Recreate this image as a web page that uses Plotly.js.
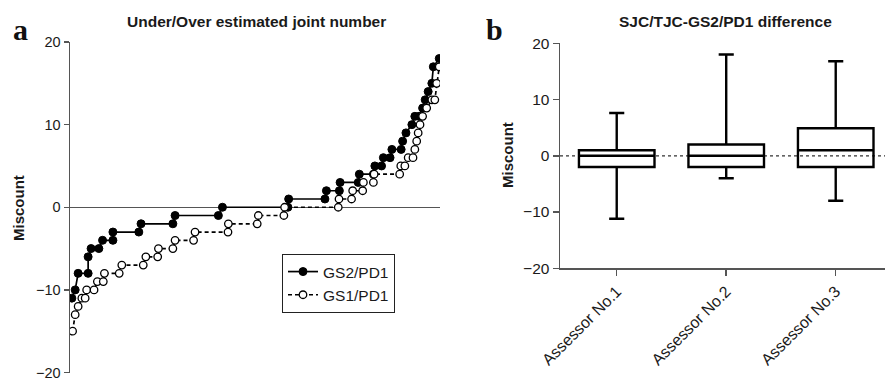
<!DOCTYPE html>
<html>
<head>
<meta charset="utf-8">
<script src="https://cdn.plot.ly/plotly-3.0.1.min.js"></script>
<style>html,body{margin:0;padding:0;background:#fff;}#chart{width:885px;height:381px;}</style>
</head>
<body>
<div id="chart"></div>
<script>
// Panel a: sorted miscount curves (x = relative position along the ranked cases, 0-100)
const gs2X = [0.5,1.4,2.2,4.9,4.9,5.7,7.8,8.8,11.6,11.6,18.6,19.2,27.8,28.4,40.1,41.2,58.9,59.1,68.9,69.3,72.8,73.0,77.9,78.2,82.0,82.4,84.2,84.7,86.5,87.0,89.5,89.9,90.8,92.4,93.2,94.3,95.3,96.0,96.8,97.8,98.2,99.8];
const gs2Y = [-11,-10,-8,-8,-6,-5,-5,-4,-4,-3,-3,-2,-2,-1,-1,0,0,1,1,2,2,3,3,4,4,5,5,6,6,7,7,8,9,10,11,11,12,13,14,15,17,18];
const gs1X = [0.7,1.4,2.2,3.2,4.1,4.5,6.5,7.4,9.0,9.3,13.3,14.0,19.8,20.5,23.7,23.9,27.8,28.4,33.4,33.8,42.7,42.8,50.6,50.9,57.8,58.0,72.5,72.7,76.1,76.4,79.1,79.3,82.0,82.2,89.1,89.4,90.5,91.4,92.7,93.2,93.7,94.1,94.6,95.3,96.4,97.8,98.6,99.1,99.8];
const gs1Y = [-15,-13,-12,-11,-11,-10,-10,-9,-9,-8,-8,-7,-7,-6,-6,-5,-5,-4,-4,-3,-3,-2,-2,-1,-1,0,0,1,1,2,2,3,3,4,4,5,5,6,6,7,8,9,10,11,12,13,13,15,17];
const seriesNames = ['GS2/PD1','GS1/PD1'];

// Panel b: box summary per assessor
const assessors = ['Assessor No.1','Assessor No.2','Assessor No.3'];
const q1 = [-2,-2,-2];
const med = [0,0,1];
const q3 = [1,2,4.9];
const lowF = [-11.2,-4,-8];
const upF = [7.6,18,16.8];
const yTicks = [-20,-10,0,10,20];

const FONT = 'Arial, "Liberation Sans", sans-serif';
const TXT = '#1a1a1a';
const AX = '#555';

const traces = [
  {x: gs2X, y: gs2Y, name: seriesNames[0], type: 'scatter', mode: 'lines+markers',
   line: {color: '#000', width: 1.7},
   marker: {symbol: 'circle', size: 8, color: '#000', line: {color: '#000', width: 1}},
   xaxis: 'x', yaxis: 'y'},
  {x: gs1X, y: gs1Y, name: seriesNames[1], type: 'scatter', mode: 'lines+markers',
   line: {color: '#000', width: 1.7, dash: '4px,3px'},
   marker: {symbol: 'circle', size: 7.5, color: '#fff', line: {color: '#000', width: 1.3}},
   xaxis: 'x', yaxis: 'y'},
  {type: 'box', x: assessors, q1: q1, median: med, q3: q3, lowerfence: lowF, upperfence: upF,
   boxpoints: false, width: 0.69, whiskerwidth: 0.2,
   fillcolor: 'rgba(0,0,0,0)', line: {color: '#000', width: 2.4},
   showlegend: false, hoverinfo: 'skip', xaxis: 'x2', yaxis: 'y2'}
];

const W = 885, H = 381;
const layout = {
  width: W, height: H,
  margin: {l: 0, r: 0, t: 0, b: 0},
  paper_bgcolor: '#fff', plot_bgcolor: 'rgba(0,0,0,0)',
  font: {family: FONT, color: TXT, size: 15},
  showlegend: true,
  legend: {x: 282/W, y: 1 - 254/H, xanchor: 'left', yanchor: 'top',
           bordercolor: '#222', borderwidth: 1, bgcolor: '#fff',
           font: {family: FONT, size: 15.5, color: TXT},
           tracegroupgap: 0, itemwidth: 30},
  xaxis: {domain: [70/W, 440/W], range: [0, 100], visible: false, fixedrange: true},
  yaxis: {domain: [1 - 372.5/H, 1 - 42/H], range: [-20, 20], tickvals: yTicks,
          showline: true, linecolor: AX, linewidth: 1.5, ticks: 'outside', ticklen: 5,
          tickcolor: AX, tickwidth: 1.5, showgrid: false, ticklabeloverflow: 'allow',
          zeroline: true, zerolinecolor: '#555', zerolinewidth: 1,
          tickfont: {size: 14.5, color: TXT}, anchor: 'x'},
  xaxis2: {domain: [560/W, 1], range: [-0.518, 2.45], type: 'category',
           showline: true, linecolor: AX, linewidth: 1.5, ticks: 'outside', ticklen: 6,
           tickcolor: AX, tickwidth: 1.5, showgrid: false, zeroline: false,
           tickangle: -45, tickfont: {size: 16, color: TXT}, anchor: 'y2'},
  yaxis2: {domain: [1 - 268.3/H, 1 - 43.3/H], range: [-20, 20], tickvals: yTicks,
           showline: true, linecolor: AX, linewidth: 1.5, ticks: 'outside', ticklen: 6,
           tickcolor: AX, tickwidth: 1.5, showgrid: false, zeroline: false,
           tickfont: {size: 15.5, color: TXT}, anchor: 'x2'},
  shapes: [
    {type: 'line', xref: 'x2 domain', x0: 0, x1: 1, yref: 'y2', y0: 0, y1: 0,
     line: {color: '#333', width: 1.2, dash: 'dot'}, layer: 'below'}
  ],
  annotations: [
    {text: '<b>Under/Over estimated joint number</b>', xref: 'paper', yref: 'paper',
     x: 256/W, y: 1 - 22/H, xanchor: 'center', yanchor: 'middle', showarrow: false,
     font: {family: FONT, size: 15.5, color: TXT}},
    {text: '<b>SJC/TJC-GS2/PD1 difference</b>', xref: 'paper', yref: 'paper',
     x: 725/W, y: 1 - 22/H, xanchor: 'center', yanchor: 'middle', showarrow: false,
     font: {family: FONT, size: 15.5, color: TXT}},
    {text: '<b>Miscount</b>', xref: 'paper', yref: 'paper', textangle: -90,
     x: 18/W, y: 1 - 208/H, xanchor: 'center', yanchor: 'middle', showarrow: false,
     font: {family: FONT, size: 15, color: TXT}},
    {text: '<b>Miscount</b>', xref: 'paper', yref: 'paper', textangle: -90,
     x: 507/W, y: 1 - 155/H, xanchor: 'center', yanchor: 'middle', showarrow: false,
     font: {family: FONT, size: 15, color: TXT}},
    {text: '<b>a</b>', xref: 'paper', yref: 'paper',
     x: 20/W, y: 1 - 30/H, xanchor: 'center', yanchor: 'middle', showarrow: false,
     font: {family: '"Liberation Serif", "DejaVu Serif", serif', size: 30, color: '#111'}},
    {text: '<b>b</b>', xref: 'paper', yref: 'paper',
     x: 494/W, y: 1 - 30/H, xanchor: 'center', yanchor: 'middle', showarrow: false,
     font: {family: '"Liberation Serif", "DejaVu Serif", serif', size: 30, color: '#111'}}
  ]
};

Plotly.newPlot('chart', traces, layout, {displayModeBar: false, staticPlot: true});
</script>
</body>
</html>
